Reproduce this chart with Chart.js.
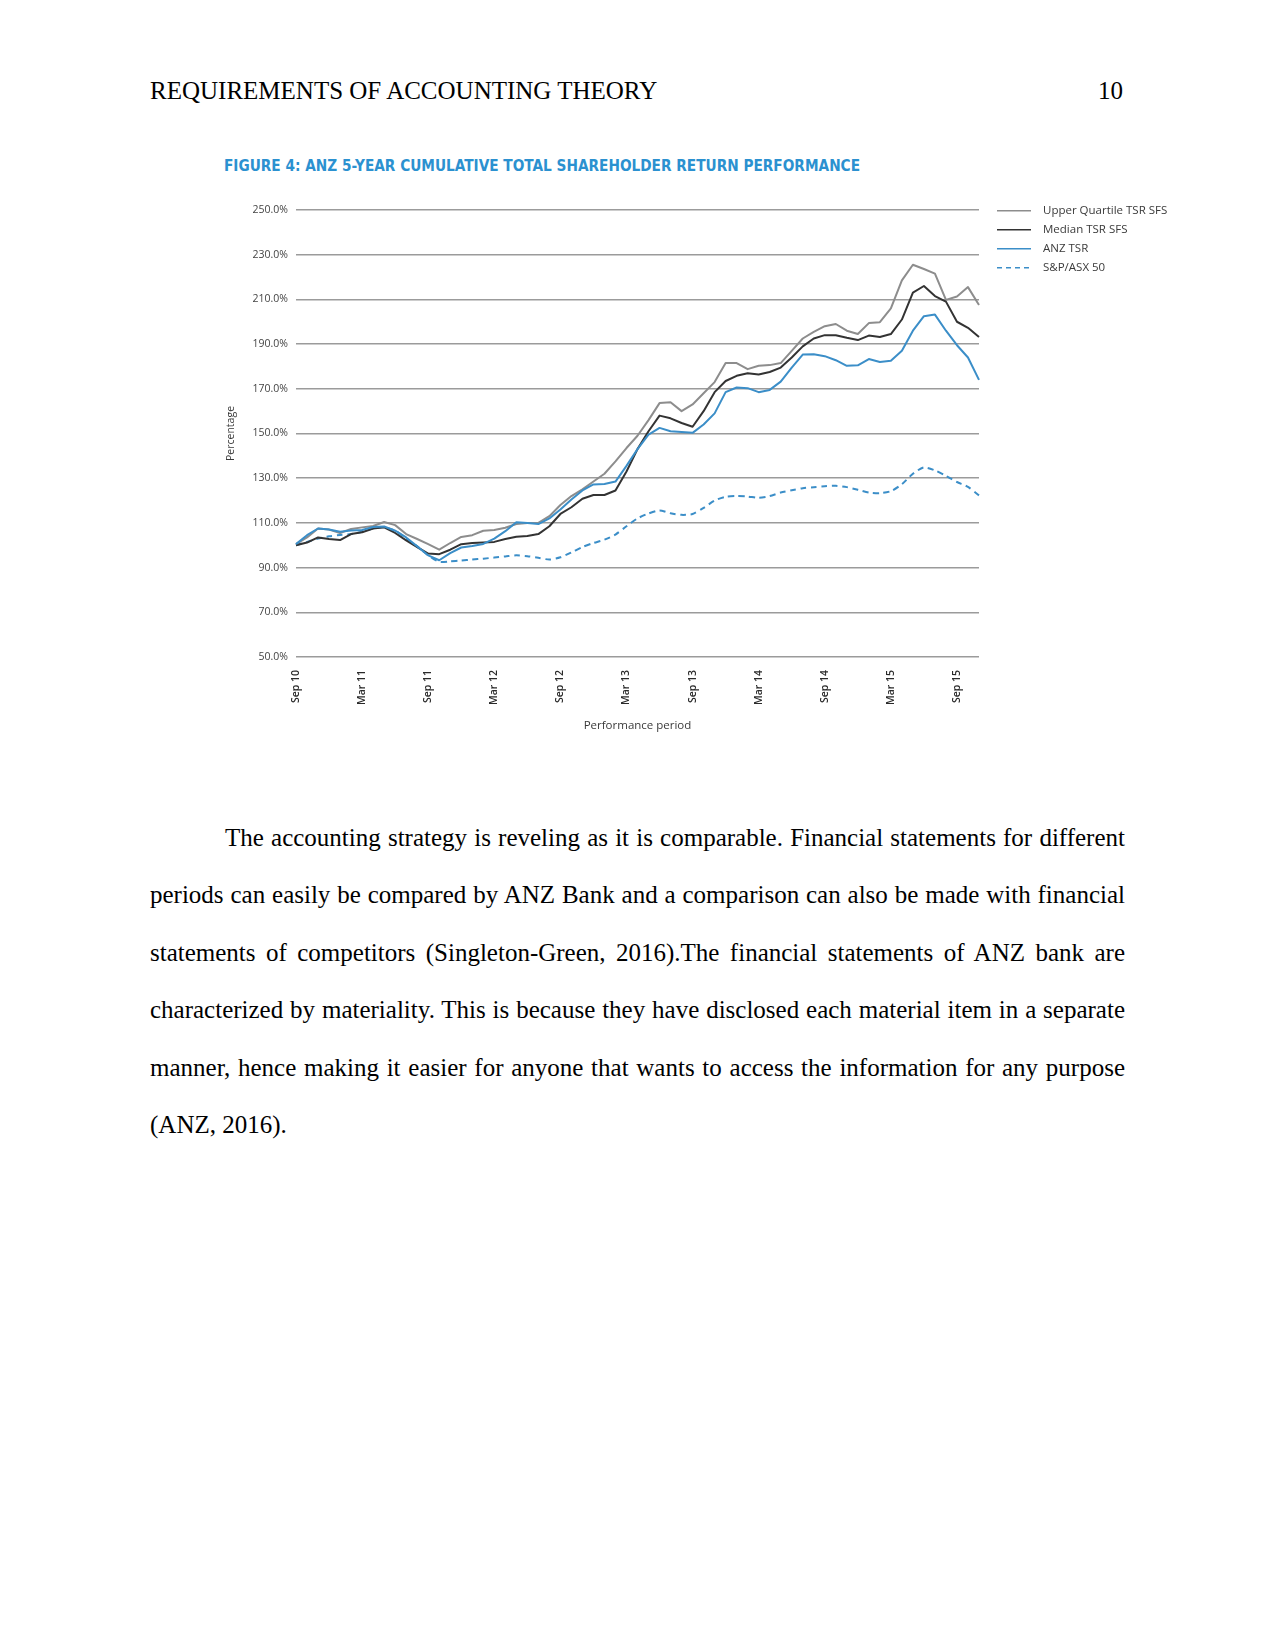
<!DOCTYPE html>
<html>
<head>
<meta charset="utf-8">
<title>ANZ 5-year cumulative TSR</title>
<script src="https://cdn.jsdelivr.net/npm/chart.js@4.4.1/dist/chart.umd.min.js"></script>
<style>
  html, body { margin: 0; padding: 0; background: #fff; }
  #page { position: relative; width: 1275px; height: 1650px; overflow: hidden;
          font-family: "Liberation Serif", "Times New Roman", serif; color: #000; }
  .head { position: absolute; top: 76px; font-size: 25px; line-height: 29px; white-space: nowrap; }
  #figTitle { position: absolute; left: 224px; top: 157px; white-space: nowrap;
              font: bold 15px "Liberation Sans Narrow", "DejaVu Sans Condensed", sans-serif;
              color: #2b91d0; transform-origin: 0 50%; }
  #chartBox { position: absolute; left: 200px; top: 180px; width: 1020px; height: 560px; }
  #body { position: absolute; left: 150px; top: 809px; width: 975px; font-size: 25px; line-height: 57.4px; }
  #body .ln { text-align: justify; text-align-last: justify; }
  #body .ln.first { text-indent: 75px; }
  #body .ln.last { text-align: left; text-align-last: left; }
</style>
</head>
<body>
<div id="page">
  <div class="head" style="left:150px">REQUIREMENTS OF ACCOUNTING THEORY</div>
  <div class="head" style="right:152px">10</div>

  <div id="figTitle">FIGURE 4: ANZ 5-YEAR CUMULATIVE TOTAL SHAREHOLDER RETURN PERFORMANCE</div>
  <div id="chartBox"><canvas id="tsr" width="1020" height="560"></canvas></div>

  <div id="body">
    <div class="ln first">The accounting strategy is reveling as it is comparable. Financial statements for different</div>
    <div class="ln">periods can easily be compared by ANZ Bank and a comparison can also be made with financial</div>
    <div class="ln">statements of competitors (Singleton-Green, 2016).The financial statements of ANZ bank are</div>
    <div class="ln">characterized by materiality. This is because they have disclosed each material item in a separate</div>
    <div class="ln">manner, hence making it easier for anyone that wants to access the information for any purpose</div>
    <div class="ln last">(ANZ, 2016).</div>
  </div>
</div>

<script>
// ── monthly periods, Sep 10 → Nov 15 ──
const months = [
  'Sep 10','Oct 10','Nov 10','Dec 10',
  'Jan 11','Feb 11','Mar 11','Apr 11','May 11','Jun 11','Jul 11','Aug 11','Sep 11','Oct 11','Nov 11','Dec 11',
  'Jan 12','Feb 12','Mar 12','Apr 12','May 12','Jun 12','Jul 12','Aug 12','Sep 12','Oct 12','Nov 12','Dec 12',
  'Jan 13','Feb 13','Mar 13','Apr 13','May 13','Jun 13','Jul 13','Aug 13','Sep 13','Oct 13','Nov 13','Dec 13',
  'Jan 14','Feb 14','Mar 14','Apr 14','May 14','Jun 14','Jul 14','Aug 14','Sep 14','Oct 14','Nov 14','Dec 14',
  'Jan 15','Feb 15','Mar 15','Apr 15','May 15','Jun 15','Jul 15','Aug 15','Sep 15','Oct 15','Nov 15'
];
const tickLabels = ['Sep 10','Mar 11','Sep 11','Mar 12','Sep 12','Mar 13','Sep 13','Mar 14','Sep 14','Mar 15','Sep 15'];

// ── series (% cumulative TSR) ──
const upperQuartile = [100.5, 103.5, 107.5, 107, 105.5, 107.3, 108, 108.6, 110.4, 109, 105, 102.8, 100.5, 98, 101,
  103.7, 104.5, 106.5, 106.8, 107.8, 109.5, 110, 110, 113, 118, 122, 125, 128.5, 132, 137.5, 143.5, 149, 156, 163.6,
  164, 160, 163, 168, 173, 181.5, 181.5, 178.8, 180.3, 180.6, 181.5, 187, 192.5, 195.5, 198, 199, 196, 194.5, 199.4,
  199.8, 206, 218.5, 225.5, 223.6, 221.5, 209.8, 211.3, 215.5, 207.5];
const medianTsr = [100, 101.2, 103.5, 102.8, 102.3, 105, 105.8, 107.5, 108, 105.5, 102.2, 99.2, 96.3, 96, 98, 100.5,
  101, 101.2, 101.5, 102.8, 103.8, 104.1, 105, 108.5, 114, 117, 120.8, 122.5, 122.5, 124.5, 133, 143, 151, 158, 156.8,
  154.7, 153, 160, 168.5, 173.5, 175.8, 177, 176.4, 177.5, 179.5, 184, 189, 192.5, 194, 194, 192.8, 191.8, 193.8,
  193.2, 194.5, 201, 213, 216, 211.5, 209, 200, 197.3, 193.2];
const anzTsr = [100.5, 104.5, 107.5, 107, 106, 106.6, 106.8, 108.2, 108.4, 106.5, 103.5, 99.5, 95.5, 93.3, 96.5, 99,
  99.7, 100.6, 103, 106.3, 110.3, 110, 109.5, 112, 116, 120.5, 124.5, 127.2, 127.4, 128.5, 135.5, 143, 149.5, 152.5,
  151, 150.7, 150.3, 154, 159, 168.5, 170.6, 170.3, 168.5, 169.5, 173.2, 179.5, 185.3, 185.5, 184.6, 182.8, 180.3,
  180.5, 183.3, 182, 182.5, 187, 196, 202.5, 203.2, 196, 189.5, 184, 174];
const asx50 = [100, 101.5, 103, 104, 104.6, 105, 106, 107.5, 108, 106.5, 103, 99.5, 95.5, 92.6, 92.8, 93.2, 93.6, 94,
  94.5, 95, 95.5, 95.1, 94.4, 93.6, 94.6, 96.8, 99.2, 101, 102.5, 104.8, 108.5, 112, 114.2, 115.6, 114.3, 113.6, 114,
  116.7, 120, 121.7, 122, 121.8, 121.2, 122, 123.6, 124.6, 125.5, 126, 126.4, 126.6, 126, 124.8, 123.6, 123.3, 124.2,
  127.3, 132, 134.8, 133.5, 131, 128.3, 126.1, 122.3];

const CHART_FONT = '"Open Sans", "Noto Sans", sans-serif';

/* legend drawn to the right of the plot, line sample + label */
const sideLegend = {
  id: 'sideLegend',
  afterDraw(chart) {
    const { ctx, chartArea } = chart;
    const x0 = chartArea.right + 18;
    ctx.save();
    chart.data.datasets.forEach((ds, i) => {
      const y = chartArea.top + 0.7 + i * 19;
      ctx.strokeStyle = ds.borderColor;
      ctx.lineWidth = 1.5;
      ctx.setLineDash(ds.borderDash ? [5, 4] : []);
      ctx.beginPath();
      ctx.moveTo(x0, y);
      ctx.lineTo(x0 + 34, y);
      ctx.stroke();
      ctx.setLineDash([]);
      ctx.fillStyle = '#3a3a3a';
      ctx.font = '11.5px ' + CHART_FONT;
      ctx.textBaseline = 'middle';
      ctx.fillText(ds.label, x0 + 46, y);
    });
    ctx.restore();
  }
};

new Chart(document.getElementById('tsr'), {
  type: 'line',
  data: {
    labels: months,
    datasets: [
      { label: 'Upper Quartile TSR SFS', data: upperQuartile, borderColor: '#8d8d8d', borderWidth: 2, order: 3 },
      { label: 'Median TSR SFS',         data: medianTsr,     borderColor: '#333333', borderWidth: 2, order: 2 },
      { label: 'ANZ TSR',                data: anzTsr,        borderColor: '#3b8ec8', borderWidth: 2, order: 1 },
      { label: 'S&P/ASX 50',             data: asx50,         borderColor: '#3b8ec8', borderWidth: 2, order: 4,
        borderDash: [6, 4.5], tension: 0.25 },
    ],
  },
  options: {
    responsive: false,
    animation: false,
    layout: { padding: { left: 0, top: 30, right: 241, bottom: 0 } },
    elements: { point: { radius: 0 }, line: { tension: 0, borderJoinStyle: 'round' } },
    plugins: { legend: { display: false }, tooltip: { enabled: false } },
    scales: {
      x: {
        grid: { display: false, drawTicks: false },
        border: { display: false },
        ticks: {
          autoSkip: false, minRotation: 90, maxRotation: 90, padding: 13,
          color: '#2a2a2a', font: { family: CHART_FONT, size: 10.5, weight: '600' },
          callback: (v, i) => (tickLabels.includes(months[i]) ? months[i] : ''),
        },
        title: { display: true, text: 'Performance period', color: '#3a3a3a',
                 font: { family: CHART_FONT, size: 11.5 }, padding: { top: 0, bottom: 7 } },
        afterFit: (s) => { s.height = 83; },
      },
      y: {
        min: 50, max: 250,
        grid: { color: '#9b9b9b', lineWidth: 1.6, drawTicks: false },
        border: { display: false },
        ticks: { stepSize: 20, padding: 8, color: '#444', font: { family: CHART_FONT, size: 10.5 },
                 callback: (v) => v.toFixed(1) + '%' },
        title: { display: true, text: 'Percentage', color: '#3a3a3a',
                 font: { family: CHART_FONT, size: 10.5 }, padding: { top: 25, bottom: 0 } },
        afterFit: (s) => { s.width = 96; },
      },
    },
  },
  plugins: [sideLegend],
});

// fit the figure caption to its printed width
const ft = document.getElementById('figTitle');
ft.style.transform = 'scaleX(' + (636 / ft.getBoundingClientRect().width) + ')';
</script>
</body>
</html>
